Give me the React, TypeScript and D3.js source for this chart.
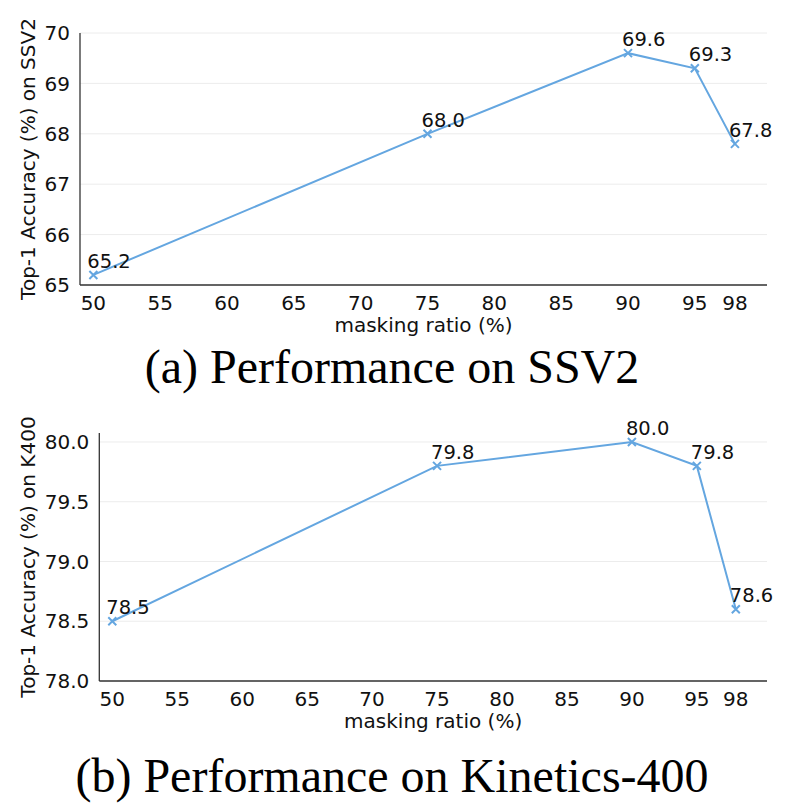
import React from "react";
import * as d3 from "d3";

const maskingRatios = [50, 75, 90, 95, 98];
const ssv2Acc = [65.2, 68.0, 69.6, 69.3, 67.8];
const k400Acc = [78.5, 79.8, 80.0, 79.8, 78.6];
const xTicks = [50, 55, 60, 65, 70, 75, 80, 85, 90, 95, 98];
const ssv2YTicks = [65, 66, 67, 68, 69, 70];
const k400YTicks = [78.0, 78.5, 79.0, 79.5, 80.0];

const LINE = "#64a6e0";
const FONT = "DejaVu Sans, sans-serif";

type PanelProps = {
  x0: number; x1: number; y0: number; y1: number;
  yDomain: [number, number];
  values: number[];
  yTicks: number[];
  yFmt: (v: number) => string;
  yLabel: string;
  caption: string;
  captionY: number;
};

function Panel(p: PanelProps) {
  const x = d3.scaleLinear().domain([49, 100.4]).range([p.x0, p.x1]);
  const y = d3.scaleLinear().domain(p.yDomain).range([p.y1, p.y0]);
  const pts = maskingRatios.map((m, i) => [x(m), y(p.values[i])] as [number, number]);
  const line = d3.line()(pts) || "";
  const ms = 4;
  return (
    <g>
      {p.yTicks.map((t) => (
        <line key={"g" + t} x1={p.x0} x2={p.x1} y1={y(t)} y2={y(t)} stroke="#ececec" strokeWidth={1} />
      ))}
      <line x1={p.x0} x2={p.x0} y1={p.y0} y2={p.y1} stroke="#333" strokeWidth={1.3} />
      <line x1={p.x0} x2={p.x1} y1={p.y1} y2={p.y1} stroke="#333" strokeWidth={1.3} />
      {p.yTicks.map((t) => (
        <text key={"y" + t} x={p.x0 - 10} y={y(t)} dy="0.36em" textAnchor="end" fontFamily={FONT} fontSize={20} fill="#111">
          {p.yFmt(t)}
        </text>
      ))}
      {xTicks.map((t) => (
        <text key={"x" + t} x={x(t)} y={p.y1 + 25} textAnchor="middle" fontFamily={FONT} fontSize={20} fill="#111">
          {t}
        </text>
      ))}
      <text x={(p.x0 + p.x1) / 2} y={p.y1 + 47} textAnchor="middle" fontFamily={FONT} fontSize={20} fill="#111">
        masking ratio (%)
      </text>
      <text transform={`translate(${35},${(p.y0 + p.y1) / 2}) rotate(-90)`} textAnchor="middle" fontFamily={FONT} fontSize={20} fill="#111">
        {p.yLabel}
      </text>
      <path d={line} fill="none" stroke={LINE} strokeWidth={2} />
      {pts.map(([px, py], i) => (
        <g key={"m" + i}>
          <path d={`M${px - ms},${py - ms}L${px + ms},${py + ms}M${px - ms},${py + ms}L${px + ms},${py - ms}`} stroke={LINE} strokeWidth={2} />
          <text x={px - 6} y={py - 7} fontFamily={FONT} fontSize={19.5} fill="#111">
            {p.values[i].toFixed(1)}
          </text>
        </g>
      ))}
      <text x={392} y={p.captionY} textAnchor="middle" fontFamily="Liberation Serif, Times New Roman, serif" fontSize={48} fill="#000">
        {p.caption}
      </text>
    </g>
  );
}

export default function App() {
  return (
    <svg width={785} height={812} style={{ position: "absolute", left: 0, top: 0, background: "#fff" }}>
      <rect width={785} height={812} fill="#fff" />
      <Panel x0={80} x1={767} y0={33} y1={285} yDomain={[65, 70]} values={ssv2Acc} yTicks={ssv2YTicks}
        yFmt={(v) => d3.format("d")(v)} yLabel="Top-1 Accuracy (%) on SSV2" caption="(a) Performance on SSV2" captionY={383} />
      <Panel x0={99.3} x1={767} y0={433} y1={681} yDomain={[78, 80.075]} values={k400Acc} yTicks={k400YTicks}
        yFmt={(v) => d3.format(".1f")(v)} yLabel="Top-1 Accuracy (%) on K400" caption="(b) Performance on Kinetics-400" captionY={792} />
    </svg>
  );
}
